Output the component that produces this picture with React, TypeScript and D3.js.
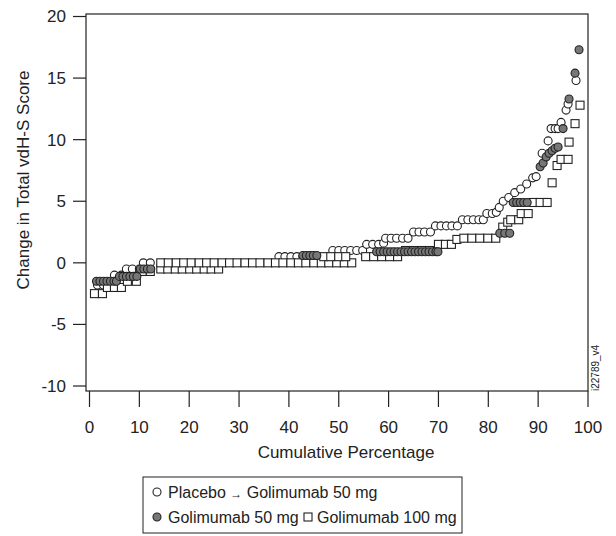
import React from "react";
import * as d3 from "d3";

// cumulative percentage / change in score
const placeboPoints: [number, number][] = [
  [1.6, -1.8], [2.8, -1.8], [5.0, -1], [6.4, -1], [7.4, -0.5], [8.6, -0.5], [10.0, -0.5],
  [10.8, 0], [12.2, 0],
  [38, 0.5], [39.2, 0.5], [40.4, 0.5], [41.6, 0.5], [42.8, 0.5],
  [48.8, 1], [50, 1], [51.2, 1], [52.4, 1], [53.6, 1], [54.8, 1],
  [55.6, 1.5], [56.8, 1.5], [58, 1.5], [59, 1.6],
  [59.4, 2], [60.5, 2], [61.6, 2], [62.8, 2], [63.9, 2],
  [65, 2.5], [66.1, 2.5], [67.2, 2.5], [68.4, 2.5],
  [69.4, 3], [70.5, 3], [71.6, 3], [72.7, 3], [73.8, 3],
  [74.8, 3.5], [75.9, 3.5], [77, 3.5], [78.1, 3.5], [79, 3.5],
  [79.7, 4], [80.8, 4], [81.6, 4.1], [82.2, 4.5], [83, 5], [84.1, 5.3],
  [85.3, 5.7], [86.5, 6], [87.7, 6.4], [88.9, 6.9], [89.6, 7],
  [90.8, 8.9], [92, 9.9], [92.6, 10.9], [93.4, 10.9], [94, 10.9],
  [94.6, 11.4], [95.6, 12.4], [96, 12.9], [97.6, 14.8],
];

const golim50Points: [number, number][] = [
  [1.4, -1.5], [2.1, -1.5], [2.8, -1.5], [3.5, -1.5], [4.2, -1.5], [4.9, -1.5], [5.4, -1.5],
  [6.0, -1.1], [6.7, -1.1], [7.4, -1.1], [8.1, -1.1], [8.8, -1.1], [9.5, -1.1],
  [10.2, -0.5], [10.9, -0.5], [11.6, -0.5], [12.3, -0.5],
  [42.8, 0.6], [43.5, 0.6], [44.2, 0.6], [44.9, 0.6], [45.6, 0.6],
  [57.6, 0.9], [58.3, 0.9], [59, 0.9], [59.7, 0.9], [60.4, 0.9], [61.1, 0.9], [61.8, 0.9],
  [62.5, 0.9], [63.2, 0.9], [63.9, 0.9], [64.6, 0.9], [65.3, 0.9], [66, 0.9], [66.7, 0.9],
  [67.4, 0.9], [68.1, 0.9], [68.8, 0.9], [69.5, 0.9], [69.9, 0.9],
  [82.3, 2.4], [83.3, 2.4], [84.3, 2.4],
  [85, 4.9], [85.7, 4.9], [86.4, 4.9], [87.1, 4.9], [87.8, 4.9],
  [90.4, 7.8], [91, 8.1], [91.6, 8.6], [92.2, 8.9], [92.8, 9.1], [93.4, 9.3], [94, 9.4],
  [95, 10.9], [96.2, 13.3], [97.4, 15.4], [98.2, 17.3],
];

const golim100Points: [number, number][] = [
  [1.0, -2.5], [2.6, -2.5], [3.6, -2], [5.0, -2], [6.4, -2], [7.6, -1.5], [9.4, -1.5],
  [10.6, -0.7], [12.2, -0.7],
  [14.3, -0.5], [15.7, -0.5], [17.2, -0.5], [18.6, -0.5], [20.1, -0.5], [21.5, -0.5],
  [23.0, -0.5], [24.4, -0.5], [25.9, -0.5],
  [14.3, 0], [15.8, 0], [17.4, 0], [18.9, 0], [20.4, 0], [22.0, 0], [23.5, 0], [25.0, 0],
  [26.6, 0], [28.1, 0], [29.6, 0], [31.2, 0], [32.7, 0], [34.2, 0], [35.8, 0], [37.3, 0],
  [38.8, 0], [40.4, 0], [41.9, 0], [43.4, 0], [45.0, 0], [46.5, 0], [48.0, 0], [49.6, 0],
  [51.1, 0], [52.6, 0],
  [47, 0.5], [48.4, 0.5], [50, 0.5], [51.4, 0.5],
  [55.4, 0.5], [57, 0.5], [58.6, 0.5], [60.2, 0.5], [61.8, 0.5],
  [63.4, 1], [65, 1], [66.6, 1], [68.2, 1],
  [70, 1.5], [71.4, 1.5], [72.6, 1.5],
  [73.7, 1.9], [75.1, 2], [76.7, 2], [78.3, 2], [79.9, 2], [81.5, 2],
  [82.9, 2.9], [83.9, 3.3], [84.5, 3.5], [86.1, 3.5], [86.6, 4], [88, 4],
  [89, 4.9], [90.4, 4.9], [91.8, 4.9],
  [92.8, 6.5], [93.8, 7.9], [94.6, 8.4], [96, 8.4], [96.2, 9.8], [97.4, 11.3], [98.4, 12.8],
];

const xTicks = [0, 10, 20, 30, 40, 50, 60, 70, 80, 90, 100];
const yTicks = [-10, -5, 0, 5, 10, 15, 20];

const FONT = "'Liberation Sans', Arial, Helvetica, sans-serif";
const INK = "#222";

const App = () => {
  const frame = { left: 86, top: 14, right: 588, bottom: 391 };
  const x = d3.scaleLinear().domain([0, 100]).range([89.5, 588]);
  const y = d3.scaleLinear().domain([-10, 20]).range([386, 16.5]);
  const r = 4;

  const circle = (d: [number, number], i: number, fill: string) => (
    <circle key={i} cx={x(d[0])} cy={y(d[1])} r={r} fill={fill} stroke={INK} strokeWidth={1.1} />
  );

  return (
    <svg width={616} height={536} style={{ position: "absolute", left: 0, top: 0, background: "#fff" }}
      fontFamily={FONT}>
      <rect x={0} y={0} width={616} height={536} fill="#fff" />

      {/* frame */}
      <rect x={frame.left} y={frame.top} width={frame.right - frame.left} height={frame.bottom - frame.top}
        fill="none" stroke={INK} strokeWidth={1.2} />

      {/* y axis */}
      {yTicks.map(t => (
        <g key={t}>
          <line x1={frame.left - 13} x2={frame.left} y1={y(t)} y2={y(t)} stroke={INK} strokeWidth={1.2} />
          <text x={frame.left - 20} y={y(t)} dy="0.35em" textAnchor="end" fontSize={17} fill={INK}>{t}</text>
        </g>
      ))}
      <text transform={`translate(29,180) rotate(-90)`} textAnchor="middle" fontSize={17} fill={INK}>
        Change in Total vdH-S Score
      </text>

      {/* x axis */}
      {xTicks.map(t => (
        <g key={t}>
          <line x1={x(t)} x2={x(t)} y1={frame.bottom} y2={frame.bottom + 16} stroke={INK} strokeWidth={1.2} />
          <text x={x(t)} y={433} textAnchor="middle" fontSize={17} fill={INK}>{t}</text>
        </g>
      ))}
      <text x={346} y={458} textAnchor="middle" fontSize={17} fill={INK}>Cumulative Percentage</text>

      <text transform="translate(599,391) rotate(-90)" fontSize={10} fill={INK}>i22789_v4</text>

      {/* series */}
      <g>{placeboPoints.map((d, i) => circle(d, i, "#fff"))}</g>
      <g>
        {golim100Points.map((d, i) => (
          <rect key={i} x={x(d[0]) - r} y={y(d[1]) - r} width={r * 2} height={r * 2}
            fill="#fff" stroke={INK} strokeWidth={1.1} />
        ))}
      </g>
      <g>{golim50Points.map((d, i) => circle(d, i, "#777"))}</g>

      {/* legend */}
      <rect x={143} y={477} width={319} height={56} fill="#fff" stroke={INK} strokeWidth={1} />
      <circle cx={157} cy={492} r={4} fill="#fff" stroke={INK} strokeWidth={1.1} />
      <text x={168} y={497.5} fontSize={16} fill={INK}>Placebo <tspan fontSize={12}>→</tspan> Golimumab 50 mg</text>
      <circle cx={157} cy={517} r={4} fill="#777" stroke={INK} strokeWidth={1.1} />
      <text x={168} y={522.5} fontSize={16} fill={INK}>Golimumab 50 mg</text>
      <rect x={304} y={513} width={8} height={8} fill="#fff" stroke={INK} strokeWidth={1.1} />
      <text x={317} y={522.5} fontSize={16} fill={INK}>Golimumab 100 mg</text>
    </svg>
  );
};

export default App;
